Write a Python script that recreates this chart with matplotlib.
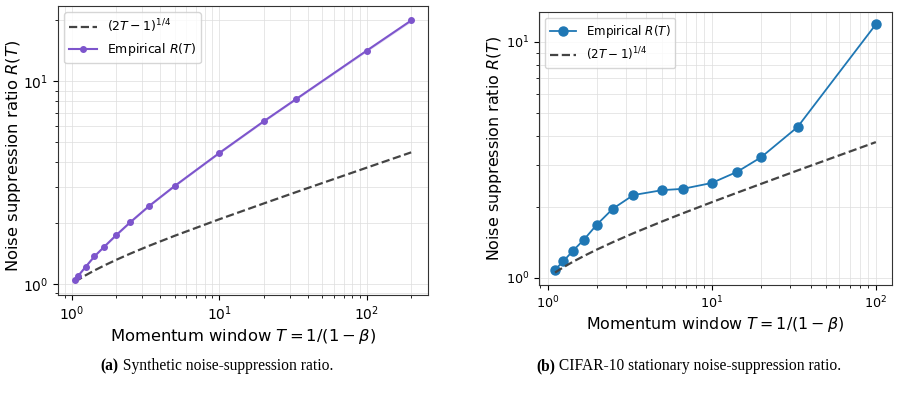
import numpy as np
import matplotlib.pyplot as plt

# (a) synthetic
syn_T = [1.053, 1.111, 1.25, 1.429, 1.667, 2.0, 2.5, 3.333, 5.0, 10.0, 20.0, 33.33, 100.0, 200.0]
syn_R = [1.05, 1.10, 1.22, 1.37, 1.53, 1.74, 2.02, 2.42, 3.05, 4.43, 6.35, 8.20, 14.2, 20.0]
syn_lo = [1.04, 1.09, 1.21, 1.36, 1.52, 1.72, 2.0, 2.40, 3.02, 4.38, 6.28, 8.11, 14.0, 19.7]
syn_hi = [1.06, 1.11, 1.23, 1.38, 1.54, 1.76, 2.04, 2.44, 3.08, 4.48, 6.42, 8.29, 14.4, 20.3]
syn_theory = [1.026, 1.051, 1.107, 1.168, 1.236, 1.316, 1.414, 1.543, 1.732, 2.088, 2.499, 2.847, 3.756, 4.469]

# (b) CIFAR-10
cif_T = [1.111, 1.25, 1.429, 1.667, 2.0, 2.5, 3.333, 5.0, 6.667, 10.0, 14.29, 20.0, 33.33, 100.0]
cif_R = [1.08, 1.175, 1.30, 1.45, 1.68, 1.96, 2.24, 2.35, 2.38, 2.52, 2.81, 3.24, 4.35, 11.86]
cif_theory = [1.051, 1.107, 1.168, 1.236, 1.316, 1.414, 1.543, 1.732, 1.874, 2.088, 2.292, 2.499, 2.847, 3.756]

dash_col = '#444444'
purple = '#7d55cc'
blue = '#1f77b4'

W, H = 898, 398
fig = plt.figure(figsize=(W / 100, H / 100), dpi=100)
ax1 = fig.add_axes([0.0646, 0.2588, 0.412, 0.726])
ax2 = fig.add_axes([0.6002, 0.284, 0.393, 0.686])

# Left panel
ax1.plot(syn_T, syn_theory, '--', color=dash_col, lw=1.6, label=r'$(2T-1)^{1/4}$')
ax1.fill_between(syn_T, syn_lo, syn_hi, color=purple, alpha=0.2, lw=0)
ax1.plot(syn_T, syn_R, '-o', color=purple, lw=1.5, ms=4, label=r'Empirical $R(T)$')
ax1.set_xscale('log')
ax1.set_yscale('log')
ax1.set_xlabel(r'Momentum window $T=1/(1-\beta)$', fontsize=11.8)
ax1.set_ylabel(r'Noise suppression ratio $R(T)$', fontsize=11.8)
ax1.xaxis.set_label_coords(0.5, -0.11)
ax1.yaxis.set_label_coords(-0.095, 0.481)
ax1.tick_params(labelsize=10)
ax1.grid(True, which='both', color='#dddddd', lw=0.7, alpha=0.7)
ax1.legend(loc='upper left', fontsize=9, handlelength=2.2)

# Right panel
ax2.plot(cif_T, cif_R, '-o', color=blue, lw=1.3, ms=6.5, label=r'Empirical $R(T)$')
ax2.plot(cif_T, cif_theory, '--', color=dash_col, lw=1.6, label=r'$(2T-1)^{1/4}$')
ax2.set_xscale('log')
ax2.set_yscale('log')
ax2.set_xlabel(r'Momentum window $T=1/(1-\beta)$', fontsize=11.4)
ax2.set_ylabel(r'Noise suppression ratio $R(T)$', fontsize=11.4)
ax2.xaxis.set_label_coords(0.5, -0.11)
ax2.yaxis.set_label_coords(-0.099, 0.5)
ax2.tick_params(labelsize=9.2)
ax2.grid(True, which='both', color='#dddddd', lw=0.7, alpha=0.7)
ax2.legend(loc='upper left', fontsize=8.6, handlelength=2.2)

for ax in (ax1, ax2):
    for sp in ax.spines.values():
        sp.set_color('#333333')


def caption(xc, yc, bold, rest):
    t1 = fig.text(0, 1 - yc / H, bold, ha='left', va='center', fontsize=11.2,
                  family='Liberation Serif', weight='bold')
    t2 = fig.text(0, 1 - yc / H, ' ' + rest, ha='left', va='center', fontsize=11.2,
                  family='Liberation Serif')
    r = fig.canvas.get_renderer()
    w1 = t1.get_window_extent(r).width
    w2 = t2.get_window_extent(r).width
    x0 = xc - (w1 + w2) / 2
    t1.set_x(x0 / W)
    t2.set_x((x0 + w1) / W)


caption(217, 366, '(a)', 'Synthetic noise-suppression ratio.')
caption(689, 366, '(b)', 'CIFAR-10 stationary noise-suppression ratio.')

fig.savefig('out.png', dpi=100)
